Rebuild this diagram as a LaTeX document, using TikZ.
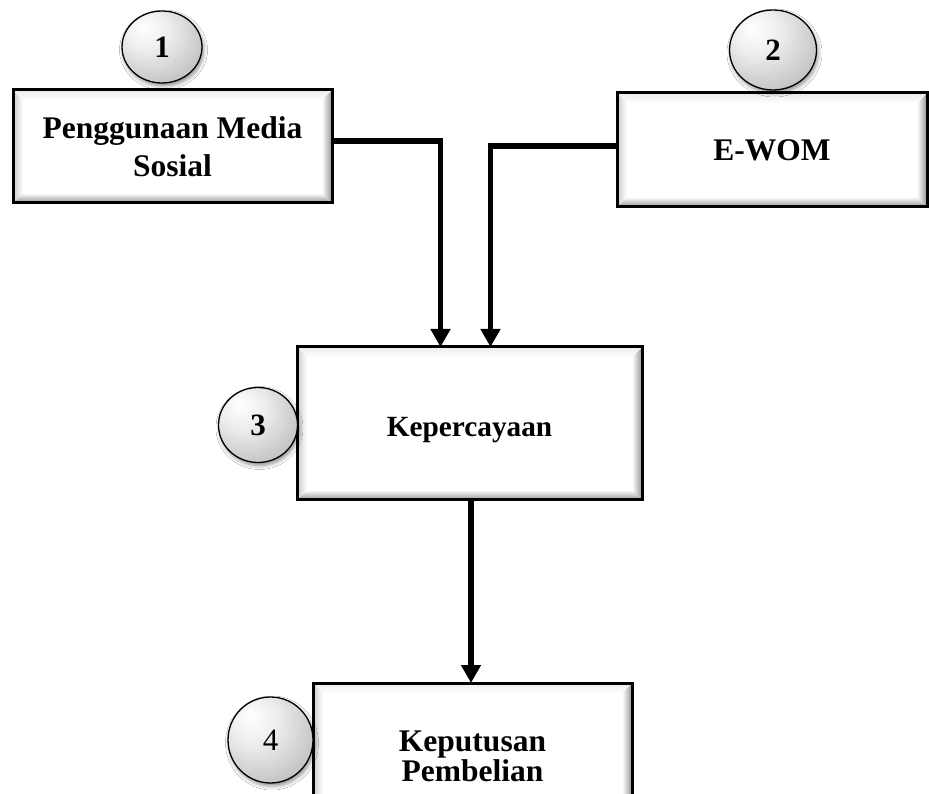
\documentclass[tikz,border=0pt]{standalone}
\usepackage{fontspec}
\setmainfont{Liberation Serif}
\usetikzlibrary{arrows.meta,shapes.geometric,shadows.blur}
\pgfdeclareradialshading{orbshade}{\pgfpoint{-12bp}{14bp}}{color(0bp)=(white); color(14bp)=(white!93!black); color(50bp)=(white!64!black); color(75bp)=(white!55!black)}
\tikzset{
  box/.style={draw=black, line width=3pt, fill=white, rectangle, inner sep=0pt, outer sep=0pt,
    align=center, font=\fontsize{31.5}{38}\selectfont\bfseries,
    path picture={
      \coordinate (pSW) at (path picture bounding box.south west);
      \coordinate (pSE) at (path picture bounding box.south east);
      \coordinate (pNE) at (path picture bounding box.north east);
      \coordinate (pNW) at (path picture bounding box.north west);
      \shade[top color=white, bottom color=black!42] (pSW) -- (pSE) -- ([shift={(-10pt,10pt)}]pSE) -- ([shift={(10pt,10pt)}]pSW) -- cycle;
      \shade[left color=white, right color=black!42] (pSE) -- (pNE) -- ([shift={(-10pt,-10pt)}]pNE) -- ([shift={(-10pt,10pt)}]pSE) -- cycle;
      \shade[right color=white, left color=black!20] (pSW) -- (pNW) -- ([shift={(10pt,-10pt)}]pNW) -- ([shift={(10pt,10pt)}]pSW) -- cycle;
      \shade[bottom color=white, top color=black!8] (pNW) -- (pNE) -- ([shift={(-10pt,-10pt)}]pNE) -- ([shift={(10pt,-10pt)}]pNW) -- cycle;
    }},
  orb/.style={ellipse, draw=black, line width=1.3pt, shading=orbshade, inner sep=0pt, outer sep=0pt,
    blur shadow={shadow xshift=1.5pt, shadow yshift=-3pt, shadow blur radius=4pt, shadow opacity=45},
    font=\fontsize{31}{36}\selectfont\bfseries},
  arr/.style={line width=5.5pt, -{Triangle[length=18pt,width=19pt]}}
}
\begin{document}
\begin{tikzpicture}[x=1pt,y=1pt]
\useasboundingbox (0,0) rectangle (929,793);
\clip (0,0) rectangle (929,793);
\fill[white] (0,0) rectangle (929,793);
% boxes
\node[box, minimum width=319pt, minimum height=113pt] (b1) at (172.5,646.5) {Penggunaan Media\\Sosial};
\node[box, minimum width=310pt, minimum height=114pt] (b2) at (772,643) {E-WOM};
\node[box, minimum width=345pt, minimum height=153pt, font=\fontsize{29.3}{35}\selectfont\bfseries, text height=27pt, text depth=0pt] (b3) at (469.5,369.5) {Kepercayaan};
\node[box, minimum width=319pt, minimum height=147pt, font=\fontsize{31.5}{30}\selectfont\bfseries] (b4) at (472.5,36.5) {Keputusan\\Pembelian};
% number circles
\node[orb, minimum width=80pt, minimum height=72pt] (c1) at (162,746) {1};
\node[orb, minimum width=87pt, minimum height=80pt] (c2) at (773,743) {2};
\node[orb, minimum width=79pt, minimum height=75pt] (c3) at (258,368) {3};
\node[orb, minimum width=85pt, minimum height=86pt, font=\fontsize{31}{36}\selectfont\mdseries] (c4) at (270.5,53) {4};
% connectors
\draw[arr] ([yshift=5.5pt]b1.east) -| ([xshift=-29pt]b3.north);
\draw[arr] ([yshift=4pt]b2.west) -| ([xshift=21pt]b3.north);
\draw[arr] ([xshift=1.5pt]b3.south) -- ([xshift=-1.5pt]b4.north);
\end{tikzpicture}
\end{document}
